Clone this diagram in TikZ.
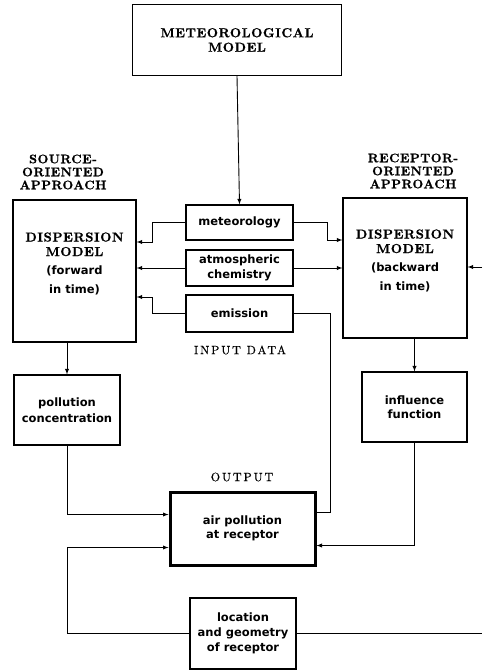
\documentclass[tikz,border=0pt]{standalone}
\usepackage{fontspec}
\usepackage{tikz}
\usetikzlibrary{calc}
\usetikzlibrary{arrows,shapes}
\usetikzlibrary{positioning}
\newfontfamily\boxsans{DejaVu Sans}
\newfontfamily\capsbf[LetterSpace=4,FakeBold=0.8]{lmroman10-bold.otf}
\newfontfamily\tagrm[LetterSpace=16,FakeBold=0.6]{lmroman10-regular.otf}
\begin{document}
\begin{tikzpicture}[x=1pt,y=-1pt,>=latex,
    box/.style={draw,line width=1.2pt,inner sep=0pt,align=center,font=\fontsize{11.5}{16}\selectfont\boxsans\bfseries},
    capsbox/.style={box,font=\fontsize{13}{14.5}\selectfont\capsbf},
    head/.style={align=center,font=\fontsize{12.5}{13}\selectfont\capsbf},
    tag/.style={font=\fontsize{12}{14}\selectfont\tagrm},
    arr/.style={->,line width=0.9pt},
    wire/.style={line width=0.9pt}]
    \useasboundingbox (0,0) rectangle (482,671);
    \node[capsbox,minimum width=209pt,minimum height=71pt] (metmodel) at (237,40) {METEOROLOGICAL\\MODEL};
    \node[capsbox,minimum width=123pt,minimum height=142pt] (srcmodel) at (74.5,271) {DISPERSION\\MODEL\\[4pt]{\boxsans\bfseries\fontsize{11.5}{17.5}\selectfont(forward}\\[4pt]{\boxsans\bfseries\fontsize{11.5}{17.5}\selectfont in time)}\\[2pt]};
    \node[capsbox,minimum width=124pt,minimum height=140pt] (recmodel) at (405,268) {DISPERSION\\MODEL\\[4pt]{\boxsans\bfseries\fontsize{11.5}{17.5}\selectfont(backward}\\[4pt]{\boxsans\bfseries\fontsize{11.5}{17.5}\selectfont in time)}\\[2pt]};
    \node[box,minimum width=107pt,minimum height=35pt] (met) at (239.5,222.5) {meteorology};
    \node[box,minimum width=107pt,minimum height=36pt,font=\fontsize{11.5}{15}\selectfont\boxsans\bfseries] (chem) at (239.5,268) {atmospheric\\chemistry};
    \node[box,minimum width=107pt,minimum height=37pt] (emis) at (239.5,313.5) {emission};
    \node[box,minimum width=106pt,minimum height=70pt] (conc) at (67,410) {pollution\\concentration};
    \node[box,minimum width=105pt,minimum height=70pt,font=\fontsize{11.5}{13.5}\selectfont\boxsans\bfseries] (infl) at (414.5,407) {influence\\function};
    \node[box,line width=3pt,minimum width=145pt,minimum height=73pt,font=\fontsize{11.5}{14.5}\selectfont\boxsans\bfseries] (out) at (242.5,528.5) {air pollution\\at receptor};
    \node[box,minimum width=106pt,minimum height=71pt,font=\fontsize{11.5}{15}\selectfont\boxsans\bfseries] (loc) at (243,633.5) {location\\and geometry\\of receptor};
    \node[head] (srclabel) at (63,172) {SOURCE-\\ORIENTED\\APPROACH};
    \node[head] (reclabel) at (413,171) {RECEPTOR-\\ORIENTED\\APPROACH};
    \node[tag] (inputlbl) at (240,350) {INPUT DATA};
    \node[tag] (outlbl) at (242,477) {OUTPUT};
    \coordinate (feed) at (482,267);
    \coordinate (locend) at (482,633.5);
    \draw[arr] (metmodel.south) -- (met.north);
    \draw[arr] (met.west) -- ++(-33,0) |- ([yshift=29pt]srcmodel.east);
    \draw[arr] (chem.west) -- (chem.west -| srcmodel.east);
    \draw[arr] (emis.west) -- ++(-33,0) |- ([yshift=-26pt]srcmodel.east);
    \draw[arr] (met.east) -- ++(34,0) |- ([yshift=28pt]recmodel.west);
    \draw[arr] (chem.east) -- (chem.east -| recmodel.west);
    \draw[wire] (emis.east) -- ++(37,0) |- ([yshift=16.5pt]out.east);
    \draw[arr] (feed) -- (feed -| recmodel.east);
    \draw[arr] (conc.north |- srcmodel.south) -- (conc.north);
    \draw[arr] (infl.north |- recmodel.south) -- (infl.north);
    \draw[arr] (conc.south) |- ([yshift=14pt]out.west);
    \draw[arr] (infl.south) |- ([yshift=-17pt]out.east);
    \draw[arr] (loc.west) -- (loc.west -| conc.south) |- ([yshift=-19pt]out.west);
    \draw[wire] (loc.east) -- (locend);
\end{tikzpicture}
\end{document}
